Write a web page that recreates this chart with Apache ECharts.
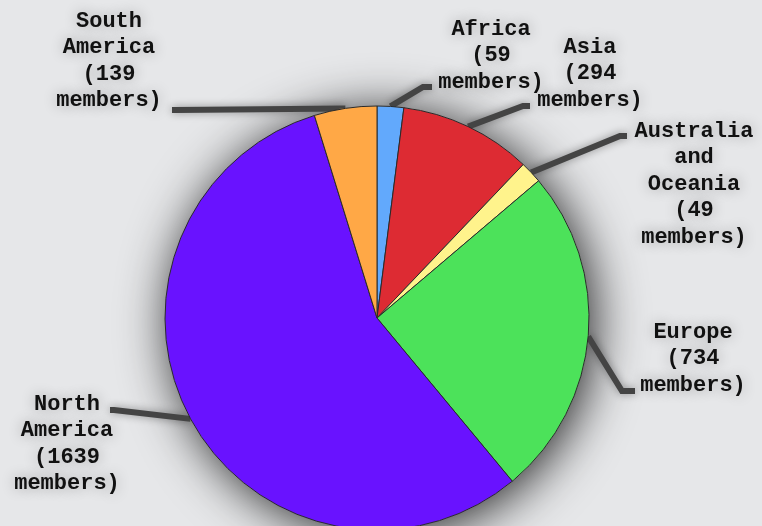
<!DOCTYPE html>
<html><head><meta charset="utf-8">
<script src="https://cdn.jsdelivr.net/npm/echarts@6/dist/echarts.min.js"></script>
<style>html,body{margin:0;padding:0;background:#e6e7e9}#c{width:762px;height:526px}</style>
</head><body><div id="c"></div>
<script>
const categories = ['Africa', 'Asia', 'Australia and Oceania', 'Europe', 'North America', 'South America'];
const members = [59, 294, 49, 734, 1639, 139];
const sliceColors = ['#62a9fc', '#dd2b33', '#fff38c', '#4ce25a', '#6912ff', '#ffa846'];
// label placement (layout only): text centre x, text top y, line end point, horizontal run
const labelPlacement = [
  {x: 491, y: 16,  ex: 432, ey: 87,  run: 9},
  {x: 590, y: 34,  ex: 530, ey: 106, run: 7},
  {x: 694, y: 118, ex: 627, ey: 136, run: 7},
  {x: 693, y: 319, ex: 635, ey: 391, run: 13},
  {x: 67,  y: 391, ex: 110, ey: 410, run: 4},
  {x: 109, y: 8,   ex: 172, ey: 110, run: 4}
];

const chart = echarts.init(document.getElementById('c'));
const total = members.reduce((a, b) => a + b, 0);
chart.setOption({
  backgroundColor: '#e6e7e9',
  animation: false,
  series: [
    {
      type: 'pie', center: [377, 318], radius: 212, silent: true, z: 1,
      data: [{value: total, itemStyle: {color: '#e6e7e9', shadowBlur: 50, shadowColor: 'rgba(0,0,0,0.85)', shadowOffsetX: 5, shadowOffsetY: 5}}],
      label: {show: false}, labelLine: {show: false}
    },
    {
      type: 'pie', center: [377, 318], radius: 212, z: 2, startAngle: 90, clockwise: true,
      avoidLabelOverlap: false,
      data: categories.map((c, i) => ({name: c, value: members[i], itemStyle: {color: sliceColors[i]}})),
      itemStyle: {borderColor: '#2a2a2a', borderWidth: 1},
      label: {
        show: true, position: 'outside',
        formatter: p => (p.name + ' (' + p.value + ' members)').split(' ').join('\n'),
        fontFamily: '"Courier New", "Liberation Mono", monospace',
        fontWeight: 'bold', fontSize: 22, lineHeight: 26.5, color: '#111',
        textShadowColor: 'rgba(0,0,0,0.3)', textShadowBlur: 14,
        width: 170, overflow: 'none', align: 'center'
      },
      labelLine: {
        show: true, length: 20, length2: 10,
        lineStyle: {color: '#444', width: 6, shadowBlur: 8, shadowColor: 'rgba(0,0,0,0.4)'}
      },
      labelLayout: function (p) {
        const lp = labelPlacement[p.dataIndex];
        const s = p.labelLinePoints[0];
        const dir = lp.ex > s[0] ? -1 : 1;
        return {
          x: lp.x, y: lp.y, align: 'center', verticalAlign: 'top',
          labelLinePoints: [s, [lp.ex + dir * lp.run, lp.ey], [lp.ex, lp.ey]]
        };
      }
    }
  ]
});
</script></body></html>
